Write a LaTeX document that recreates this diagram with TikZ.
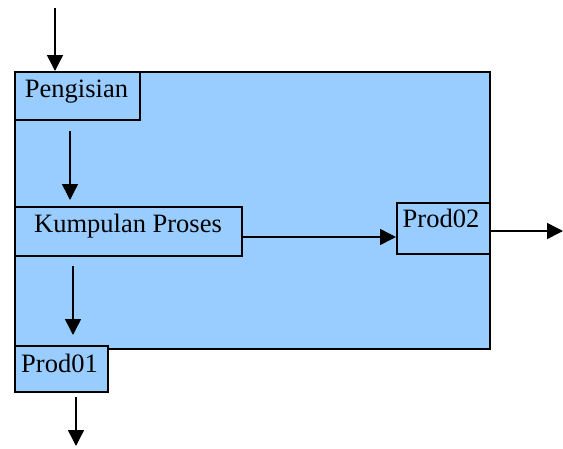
\documentclass[tikz,border=0pt]{standalone}
\usepackage{fontspec}
\setmainfont{Liberation Serif}
\usetikzlibrary{arrows.meta,calc}
\definecolor{boxblue}{HTML}{99CCFF}
\tikzset{
  box/.style={draw=black, line width=1.6pt, fill=boxblue, rectangle, inner sep=0pt, anchor=north west},
  lbl/.style={anchor=base, inner sep=0pt, font=\fontsize{26.5}{30}\selectfont},
  arr/.style={line width=1.5pt, -{Triangle[length=16pt,width=16pt]}}
}
\begin{document}
\begin{tikzpicture}[x=1pt,y=-1pt]
\useasboundingbox (0,0) rectangle (563,448);
\node[box, minimum width=475pt, minimum height=277pt] (main) at (14,71) {};
\node[box, minimum width=125pt, minimum height=48pt] (peng) at (14,71) {};
\node[box, minimum width=227pt, minimum height=49pt] (kump) at (14,206) {};
\node[box, minimum width=93pt, minimum height=51pt] (prod2) at (396,202) {};
\node[box, minimum width=93pt, minimum height=46pt] (prod1) at (14,345) {};
\node[lbl] (tpeng) at (76.5,97) {Pengisian};
\node[lbl] (tkump) at (128,232) {Kumpulan Proses};
\node[lbl] (tprod2) at (441,227) {Prod02};
\node[lbl] (tprod1) at (59.5,372) {Prod01};
\coordinate (in) at (55,8);
\coordinate (a1) at (70,131);
\coordinate (a1e) at (70,200);
\coordinate (a2) at (73,266);
\coordinate (a2e) at (73,335);
\coordinate (a3) at (76,397);
\coordinate (a3e) at (76,446);
\coordinate (out) at (563,231);
\draw[arr] (in) -- (in |- peng.north);
\draw[arr] (a1) -- (a1e);
\draw[arr] (kump.east |- 0,237) -- (prod2.west |- 0,237);
\draw[arr] (prod2.east |- out) -- (out);
\draw[arr] (a2) -- (a2e);
\draw[arr] (a3) -- (a3e);
\end{tikzpicture}
\end{document}
